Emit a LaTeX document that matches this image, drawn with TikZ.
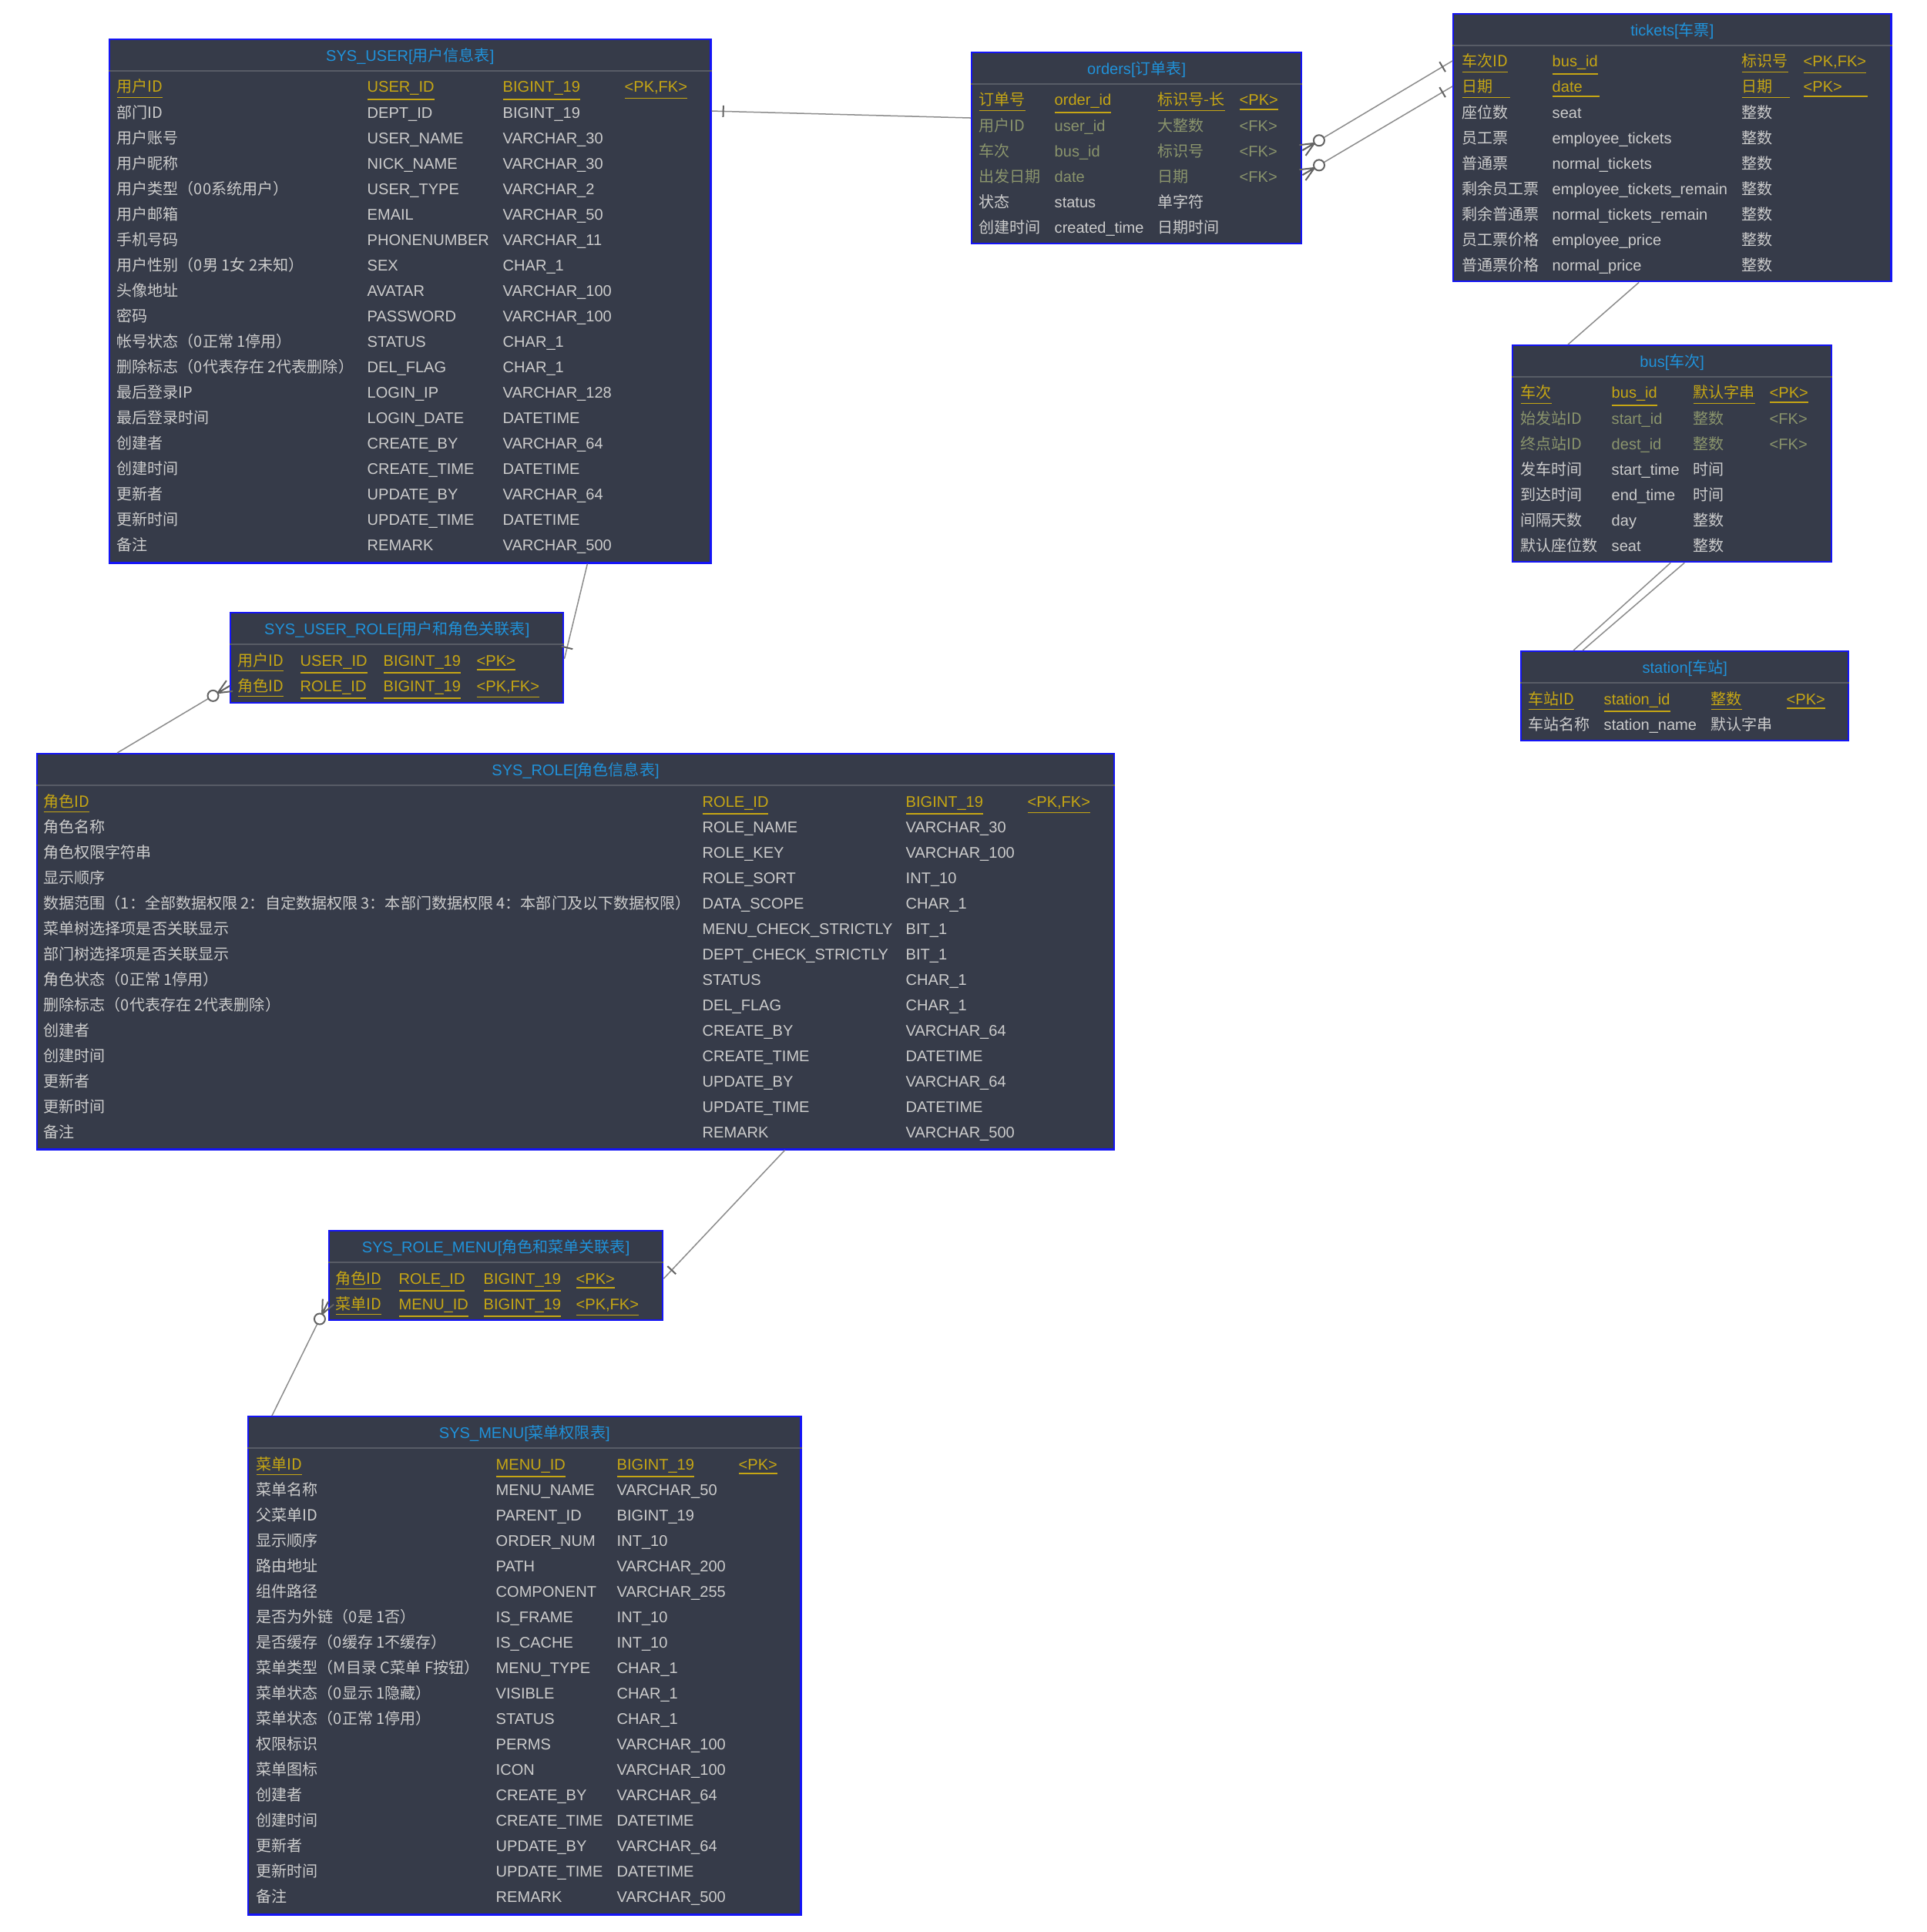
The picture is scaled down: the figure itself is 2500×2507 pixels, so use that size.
\documentclass[tikz,border=0pt]{standalone}
\usepackage{fontspec}
\setmainfont{Liberation Sans}
\newfontfamily\zh{Noto Sans CJK SC}
\usepackage{tikz}
\usetikzlibrary{calc,positioning}

\definecolor{tblbg}{RGB}{54,59,73}
\definecolor{tblblue}{RGB}{20,20,245}
\definecolor{ttlblue}{RGB}{32,146,218}
\definecolor{sepgray}{RGB}{88,92,102}
\definecolor{pkgold}{RGB}{198,166,20}
\definecolor{fkolive}{RGB}{138,148,108}
\definecolor{nmgray}{RGB}{204,204,204}
\definecolor{relgray}{RGB}{140,140,140}
\definecolor{endgray}{RGB}{100,100,100}

% bar end: #1 at the table, #2 the far end
\newcommand{\onebar}[2]{%
  \draw[endmark] ($(#1)!0.15cm!(#2)!0.075cm!90:(#2)$) -- ($(#1)!0.15cm!(#2)!0.075cm!-90:(#2)$);}
% crow's foot with circle
\newcommand{\zeromany}[2]{%
  \draw[endmark] ($(#1)!0.08cm!90:(#2)$) -- ($(#1)!0.18cm!(#2)$) -- ($(#1)!0.08cm!-90:(#2)$)
    (#1) -- ($(#1)!0.18cm!(#2)$);
  \draw[endmark, fill=white] ($(#1)!0.25cm!(#2)$) circle (0.07cm);}

\begin{document}
\begin{tikzpicture}[x=0.01cm, y=-0.01cm,
    every node/.style={font=\fontsize{5.7pt}{6.8pt}\selectfont},
    tbl/.style={draw=tblblue, line width=0.022cm, fill=tblbg, inner sep=0pt, anchor=north west},
    ttl/.style={text=ttlblue, inner sep=0pt, anchor=base},
    hsep/.style={draw=sepgray, line width=0.02cm},
    fld/.style={inner sep=0pt, anchor=base west},
    pk/.style={fld, text=pkgold},
    fk/.style={fld, text=fkolive},
    nm/.style={fld, text=nmgray},
    rel/.style={draw=relgray, line width=0.015cm},
    endmark/.style={draw=endgray, line width=0.02cm}]
    \fill[white] (0,0) rectangle (2500,2507);
    \useasboundingbox (0,0) rectangle (2500,2507);

    % SYS_USER
    \node[tbl, minimum width=7.80cm, minimum height=6.79cm] (user) at (141,50) {};
    \node[ttl] (user-t) at ([yshift=-0.29cm]user.north) {SYS\_USER[{\zh 用户信息表}]};
    \draw[hsep] ([yshift=-0.42cm]user.north west) -- ([yshift=-0.42cm]user.north east);
    \node[pk] (user-1-a) at (151,120) {\zh\underline{用户ID}};
    \node[pk] (user-1-b) at (476,120) {\underline{USER\_ID}};
    \node[pk] (user-1-c) at (652,120) {\underline{BIGINT\_19}};
    \node[pk] (user-1-d) at (810,120) {\underline{<PK,FK>}};
    \foreach \fA/\fB/\fC [count=\i from 2] in {部门ID/DEPT\_ID/BIGINT\_19,
        用户账号/USER\_NAME/VARCHAR\_30, 用户昵称/NICK\_NAME/VARCHAR\_30,
        用户类型（00系统用户）/USER\_TYPE/VARCHAR\_2, 用户邮箱/EMAIL/VARCHAR\_50,
        手机号码/PHONENUMBER/VARCHAR\_11, 用户性别（0男 1女 2未知）/SEX/CHAR\_1,
        头像地址/AVATAR/VARCHAR\_100, 密码/PASSWORD/VARCHAR\_100,
        帐号状态（0正常 1停用）/STATUS/CHAR\_1, 删除标志（0代表存在 2代表删除）/DEL\_FLAG/CHAR\_1,
        最后登录IP/LOGIN\_IP/VARCHAR\_128, 最后登录时间/LOGIN\_DATE/DATETIME,
        创建者/CREATE\_BY/VARCHAR\_64, 创建时间/CREATE\_TIME/DATETIME,
        更新者/UPDATE\_BY/VARCHAR\_64, 更新时间/UPDATE\_TIME/DATETIME,
        备注/REMARK/VARCHAR\_500} {
      \node[nm] (user-\i-a) at (151,{120+33.05*(\i-1)}) {\zh\fA};
      \node[nm] (user-\i-b) at (476,{120+33.05*(\i-1)}) {\fB};
      \node[nm] (user-\i-c) at (652,{120+33.05*(\i-1)}) {\fC};
    }

    % orders
    \node[tbl, minimum width=4.28cm, minimum height=2.48cm] (orders) at (1260,67) {};
    \node[ttl] (orders-t) at ([yshift=-0.29cm]orders.north) {orders[{\zh 订单表}]};
    \draw[hsep] ([yshift=-0.42cm]orders.north west) -- ([yshift=-0.42cm]orders.north east);
    \node[pk] (orders-1-a) at (1270,137) {\zh\underline{订单号}};
    \node[pk] (orders-1-b) at (1368,137) {\underline{order\_id}};
    \node[pk] (orders-1-c) at (1502,137) {\zh\underline{标识号-长}};
    \node[pk] (orders-1-d) at (1608,137) {\underline{<PK>}};
    \foreach \fA/\fB/\fC [count=\i from 2] in {用户ID/user\_id/大整数,
        车次/bus\_id/标识号, 出发日期/date/日期} {
      \node[fk] (orders-\i-a) at (1270,{137+33.05*(\i-1)}) {\zh\fA};
      \node[fk] (orders-\i-b) at (1368,{137+33.05*(\i-1)}) {\fB};
      \node[fk] (orders-\i-c) at (1502,{137+33.05*(\i-1)}) {\zh\fC};
      \node[fk] (orders-\i-d) at (1608,{137+33.05*(\i-1)}) {<FK>};
    }
    \foreach \fA/\fB/\fC [count=\i from 5] in {状态/status/单字符,
        创建时间/created\_time/日期时间} {
      \node[nm] (orders-\i-a) at (1270,{137+33.05*(\i-1)}) {\zh\fA};
      \node[nm] (orders-\i-b) at (1368,{137+33.05*(\i-1)}) {\fB};
      \node[nm] (orders-\i-c) at (1502,{137+33.05*(\i-1)}) {\zh\fC};
    }

    % tickets
    \node[tbl, minimum width=5.68cm, minimum height=3.47cm] (tickets) at (1885,17) {};
    \node[ttl] (tickets-t) at ([yshift=-0.29cm]tickets.north) {tickets[{\zh 车票}]};
    \draw[hsep] ([yshift=-0.42cm]tickets.north west) -- ([yshift=-0.42cm]tickets.north east);
    \node[pk] (tickets-1-a) at (1897,87) {\zh\underline{车次ID}};
    \node[pk] (tickets-1-b) at (2014,87) {\underline{bus\_id}};
    \node[pk] (tickets-1-c) at (2260,87) {\zh\underline{标识号}};
    \node[pk] (tickets-1-d) at (2340,87) {\underline{<PK,FK>}};
    \node[pk] (tickets-2-a) at (1897,120) {\zh\underline{\makebox[0.62cm][l]{日期}}};
    \node[pk] (tickets-2-b) at (2014,120) {\underline{\makebox[0.61cm][l]{date}}};
    \node[pk] (tickets-2-c) at (2260,120) {\zh\underline{\makebox[0.62cm][l]{日期}}};
    \node[pk] (tickets-2-d) at (2340,120) {\underline{\makebox[0.83cm][l]{<PK>}}};
    \foreach \fA/\fB [count=\i from 3] in {座位数/seat, 员工票/employee\_tickets,
        普通票/normal\_tickets, 剩余员工票/employee\_tickets\_remain,
        剩余普通票/normal\_tickets\_remain, 员工票价格/employee\_price,
        普通票价格/normal\_price} {
      \node[nm] (tickets-\i-a) at (1897,{87+33.05*(\i-1)}) {\zh\fA};
      \node[nm] (tickets-\i-b) at (2014,{87+33.05*(\i-1)}) {\fB};
      \node[nm] (tickets-\i-c) at (2260,{87+33.05*(\i-1)}) {\zh 整数};
    }

    % bus
    \node[tbl, minimum width=4.14cm, minimum height=2.81cm] (bus) at (1962,447) {};
    \node[ttl] (bus-t) at ([yshift=-0.29cm]bus.north) {bus[{\zh 车次}]};
    \draw[hsep] ([yshift=-0.42cm]bus.north west) -- ([yshift=-0.42cm]bus.north east);
    \node[pk] (bus-1-a) at (1973,517) {\zh\underline{车次}};
    \node[pk] (bus-1-b) at (2091,517) {\underline{bus\_id}};
    \node[pk] (bus-1-c) at (2197,517) {\zh\underline{默认字串}};
    \node[pk] (bus-1-d) at (2296,517) {\underline{<PK>}};
    \foreach \fA/\fB [count=\i from 2] in {始发站ID/start\_id, 终点站ID/dest\_id} {
      \node[fk] (bus-\i-a) at (1973,{517+33.05*(\i-1)}) {\zh\fA};
      \node[fk] (bus-\i-b) at (2091,{517+33.05*(\i-1)}) {\fB};
      \node[fk] (bus-\i-c) at (2197,{517+33.05*(\i-1)}) {\zh 整数};
      \node[fk] (bus-\i-d) at (2296,{517+33.05*(\i-1)}) {<FK>};
    }
    \foreach \fA/\fB/\fC [count=\i from 4] in {发车时间/start\_time/时间,
        到达时间/end\_time/时间, 间隔天数/day/整数, 默认座位数/seat/整数} {
      \node[nm] (bus-\i-a) at (1973,{517+33.05*(\i-1)}) {\zh\fA};
      \node[nm] (bus-\i-b) at (2091,{517+33.05*(\i-1)}) {\fB};
      \node[nm] (bus-\i-c) at (2197,{517+33.05*(\i-1)}) {\zh\fC};
    }

    % station
    \node[tbl, minimum width=4.25cm, minimum height=1.16cm] (station) at (1973,844) {};
    \node[ttl] (station-t) at ([yshift=-0.29cm]station.north) {station[{\zh 车站}]};
    \draw[hsep] ([yshift=-0.42cm]station.north west) -- ([yshift=-0.42cm]station.north east);
    \node[pk] (station-1-a) at (1983,914) {\zh\underline{车站ID}};
    \node[pk] (station-1-b) at (2081,914) {\underline{station\_id}};
    \node[pk] (station-1-c) at (2220,914) {\zh\underline{整数}};
    \node[pk] (station-1-d) at (2318,914) {\underline{<PK>}};
    \node[nm] (station-2-a) at (1983,947) {\zh 车站名称};
    \node[nm] (station-2-b) at (2081,947) {station\_name};
    \node[nm] (station-2-c) at (2220,947) {\zh 默认字串};

    % SYS_USER_ROLE
    \node[tbl, minimum width=4.32cm, minimum height=1.17cm] (userrole) at (298,794) {};
    \node[ttl] (userrole-t) at ([yshift=-0.29cm]userrole.north) {SYS\_USER\_ROLE[{\zh 用户和角色关联表}]};
    \draw[hsep] ([yshift=-0.42cm]userrole.north west) -- ([yshift=-0.42cm]userrole.north east);
    \foreach \fA/\fB/\fD [count=\i] in {用户ID/USER\_ID/<PK>, 角色ID/ROLE\_ID/{<PK,FK>}} {
      \node[pk] (userrole-\i-a) at (308,{864+33.05*(\i-1)}) {\zh\underline{\fA}};
      \node[pk] (userrole-\i-b) at (389,{864+33.05*(\i-1)}) {\underline{\fB}};
      \node[pk] (userrole-\i-c) at (497,{864+33.05*(\i-1)}) {\underline{BIGINT\_19}};
      \node[pk] (userrole-\i-d) at (618,{864+33.05*(\i-1)}) {\underline{\fD}};
    }

    % SYS_ROLE
    \node[tbl, minimum width=13.97cm, minimum height=5.13cm] (role) at (47,977) {};
    \node[ttl] (role-t) at ([yshift=-0.29cm]role.north) {SYS\_ROLE[{\zh 角色信息表}]};
    \draw[hsep] ([yshift=-0.42cm]role.north west) -- ([yshift=-0.42cm]role.north east);
    \node[pk] (role-1-a) at (56,1047) {\zh\underline{角色ID}};
    \node[pk] (role-1-b) at (911,1047) {\underline{ROLE\_ID}};
    \node[pk] (role-1-c) at (1175,1047) {\underline{BIGINT\_19}};
    \node[pk] (role-1-d) at (1333,1047) {\underline{<PK,FK>}};
    \foreach \fA/\fB/\fC [count=\i from 2] in {角色名称/ROLE\_NAME/VARCHAR\_30,
        角色权限字符串/ROLE\_KEY/VARCHAR\_100, 显示顺序/ROLE\_SORT/INT\_10,
        数据范围（1：全部数据权限 2：自定数据权限 3：本部门数据权限 4：本部门及以下数据权限）/DATA\_SCOPE/CHAR\_1,
        菜单树选择项是否关联显示/MENU\_CHECK\_STRICTLY/BIT\_1,
        部门树选择项是否关联显示/DEPT\_CHECK\_STRICTLY/BIT\_1,
        角色状态（0正常 1停用）/STATUS/CHAR\_1, 删除标志（0代表存在 2代表删除）/DEL\_FLAG/CHAR\_1,
        创建者/CREATE\_BY/VARCHAR\_64, 创建时间/CREATE\_TIME/DATETIME,
        更新者/UPDATE\_BY/VARCHAR\_64, 更新时间/UPDATE\_TIME/DATETIME,
        备注/REMARK/VARCHAR\_500} {
      \node[nm] (role-\i-a) at (56,{1047+33.05*(\i-1)}) {\zh\fA};
      \node[nm] (role-\i-b) at (911,{1047+33.05*(\i-1)}) {\fB};
      \node[nm] (role-\i-c) at (1175,{1047+33.05*(\i-1)}) {\fC};
    }

    % SYS_ROLE_MENU
    \node[tbl, minimum width=4.33cm, minimum height=1.16cm] (rolemenu) at (426,1596) {};
    \node[ttl] (rolemenu-t) at ([yshift=-0.29cm]rolemenu.north) {SYS\_ROLE\_MENU[{\zh 角色和菜单关联表}]};
    \draw[hsep] ([yshift=-0.42cm]rolemenu.north west) -- ([yshift=-0.42cm]rolemenu.north east);
    \foreach \fA/\fB/\fD [count=\i] in {角色ID/ROLE\_ID/<PK>, 菜单ID/MENU\_ID/{<PK,FK>}} {
      \node[pk] (rolemenu-\i-a) at (435,{1666+33.05*(\i-1)}) {\zh\underline{\fA}};
      \node[pk] (rolemenu-\i-b) at (517,{1666+33.05*(\i-1)}) {\underline{\fB}};
      \node[pk] (rolemenu-\i-c) at (627,{1666+33.05*(\i-1)}) {\underline{BIGINT\_19}};
      \node[pk] (rolemenu-\i-d) at (747,{1666+33.05*(\i-1)}) {\underline{\fD}};
    }

    % SYS_MENU
    \node[tbl, minimum width=7.17cm, minimum height=6.46cm] (menu) at (321,1837) {};
    \node[ttl] (menu-t) at ([yshift=-0.29cm]menu.north) {SYS\_MENU[{\zh 菜单权限表}]};
    \draw[hsep] ([yshift=-0.42cm]menu.north west) -- ([yshift=-0.42cm]menu.north east);
    \node[pk] (menu-1-a) at (332,1907) {\zh\underline{菜单ID}};
    \node[pk] (menu-1-b) at (643,1907) {\underline{MENU\_ID}};
    \node[pk] (menu-1-c) at (800,1907) {\underline{BIGINT\_19}};
    \node[pk] (menu-1-d) at (958,1907) {\underline{<PK>}};
    \foreach \fA/\fB/\fC [count=\i from 2] in {菜单名称/MENU\_NAME/VARCHAR\_50,
        父菜单ID/PARENT\_ID/BIGINT\_19, 显示顺序/ORDER\_NUM/INT\_10,
        路由地址/PATH/VARCHAR\_200, 组件路径/COMPONENT/VARCHAR\_255,
        是否为外链（0是 1否）/IS\_FRAME/INT\_10, 是否缓存（0缓存 1不缓存）/IS\_CACHE/INT\_10,
        菜单类型（M目录 C菜单 F按钮）/MENU\_TYPE/CHAR\_1, 菜单状态（0显示 1隐藏）/VISIBLE/CHAR\_1,
        菜单状态（0正常 1停用）/STATUS/CHAR\_1, 权限标识/PERMS/VARCHAR\_100,
        菜单图标/ICON/VARCHAR\_100, 创建者/CREATE\_BY/VARCHAR\_64,
        创建时间/CREATE\_TIME/DATETIME, 更新者/UPDATE\_BY/VARCHAR\_64,
        更新时间/UPDATE\_TIME/DATETIME, 备注/REMARK/VARCHAR\_500} {
      \node[nm] (menu-\i-a) at (332,{1907+33.05*(\i-1)}) {\zh\fA};
      \node[nm] (menu-\i-b) at (643,{1907+33.05*(\i-1)}) {\fB};
      \node[nm] (menu-\i-c) at (800,{1907+33.05*(\i-1)}) {\fC};
    }

    % relations
    \coordinate (user-o) at ([yshift=-0.94cm]user.north east);
    \coordinate (orders-u) at ([yshift=-0.86cm]orders.north west);
    \draw[rel] (user-o) -- (orders-u);
    \onebar{user-o}{orders-u}

    \coordinate (orders-tk1) at ([yshift=-1.28cm]orders.north east);
    \coordinate (tickets-o1) at ([yshift=-0.62cm]tickets.north west);
    \draw[rel] (orders-tk1) -- (tickets-o1);
    \zeromany{orders-tk1}{tickets-o1}
    \onebar{tickets-o1}{orders-tk1}

    \coordinate (orders-tk2) at ([yshift=-1.60cm]orders.north east);
    \coordinate (tickets-o2) at ([yshift=-0.95cm]tickets.north west);
    \draw[rel] (orders-tk2) -- (tickets-o2);
    \zeromany{orders-tk2}{tickets-o2}
    \onebar{tickets-o2}{orders-tk2}

    \coordinate (tickets-b) at ([xshift=2.42cm]tickets.south west);
    \coordinate (bus-tk) at ([xshift=0.73cm]bus.north west);
    \draw[rel] (tickets-b) -- (bus-tk);

    \coordinate (bus-s1) at ([xshift=2.06cm]bus.south west);
    \coordinate (station-b1) at ([xshift=0.69cm]station.north west);
    \draw[rel] (bus-s1) -- (station-b1);
    \coordinate (bus-s2) at ([xshift=2.24cm]bus.south west);
    \coordinate (station-b2) at ([xshift=0.81cm]station.north west);
    \draw[rel] (bus-s2) -- (station-b2);

    \coordinate (user-ur) at ([xshift=6.21cm]user.south west);
    \coordinate (userrole-u) at ([yshift=-0.61cm]userrole.north east);
    \draw[rel] (user-ur) -- (userrole-u);
    \onebar{userrole-u}{user-ur}

    \coordinate (userrole-r) at ([yshift=-0.96cm]userrole.north west);
    \coordinate (role-ur) at ([xshift=1.05cm]role.north west);
    \draw[rel] (userrole-r) -- (role-ur);
    \zeromany{userrole-r}{role-ur}

    \coordinate (role-rm) at ([xshift=9.71cm]role.south west);
    \coordinate (rolemenu-r) at ([yshift=-0.63cm]rolemenu.north east);
    \draw[rel] (role-rm) -- (rolemenu-r);
    \onebar{rolemenu-r}{role-rm}

    \coordinate (rolemenu-m) at ([yshift=-0.93cm]rolemenu.north west);
    \coordinate (menu-rm) at ([xshift=0.32cm]menu.north west);
    \draw[rel] (rolemenu-m) -- (menu-rm);
    \zeromany{rolemenu-m}{menu-rm}
\end{tikzpicture}
\end{document}
